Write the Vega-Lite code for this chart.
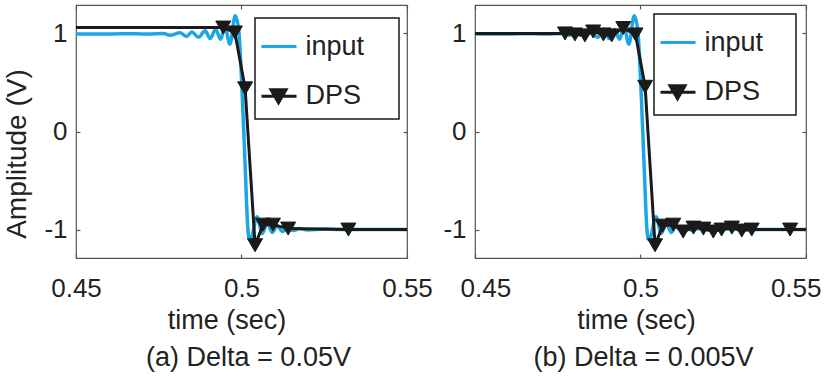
{
  "$schema": "https://vega.github.io/schema/vega-lite/v6.json",
  "padding": {"left": 2, "top": 3, "right": 0, "bottom": 0},
  "background": "white",
  "config": {
    "font": "Liberation Sans",
    "view": {"stroke": "#555555", "strokeWidth": 1.2},
    "axis": {"grid": false, "domain": false, "ticks": true, "tickSize": -4, "tickColor": "#555555", "tickWidth": 1.2, "labelColor": "#222222", "titleColor": "#222222", "titleFontWeight": "normal", "labelFontSize": 26, "titleFontSize": 27, "labelFont": "Liberation Sans", "titleFont": "Liberation Sans"},
    "legend": {"labelFont": "Liberation Sans", "labelFontSize": 27, "labelColor": "#222222"},
    "title": {"font": "Liberation Sans", "fontSize": 27, "fontWeight": "normal", "color": "#222222"}
  },
  "datasets": {
    "input": [
      {"t": 0.4500, "v": 0.995, "series": "input"},
      {"t": 0.4600, "v": 0.995, "series": "input"},
      {"t": 0.4680, "v": 0.998, "series": "input"},
      {"t": 0.4720, "v": 0.993, "series": "input"},
      {"t": 0.4764, "v": 1.000, "series": "input"},
      {"t": 0.4784, "v": 0.982, "series": "input"},
      {"t": 0.4814, "v": 1.006, "series": "input"},
      {"t": 0.4834, "v": 0.970, "series": "input"},
      {"t": 0.4850, "v": 1.015, "series": "input"},
      {"t": 0.4870, "v": 0.960, "series": "input"},
      {"t": 0.4890, "v": 1.028, "series": "input"},
      {"t": 0.4905, "v": 0.948, "series": "input"},
      {"t": 0.4922, "v": 1.040, "series": "input"},
      {"t": 0.4937, "v": 0.940, "series": "input"},
      {"t": 0.4950, "v": 1.070, "series": "input"},
      {"t": 0.4965, "v": 0.890, "series": "input"},
      {"t": 0.4981, "v": 1.180, "series": "input"},
      {"t": 0.4992, "v": 1.020, "series": "input"},
      {"t": 0.5001, "v": 0.470, "series": "input"},
      {"t": 0.5011, "v": -0.350, "series": "input"},
      {"t": 0.5019, "v": -0.980, "series": "input"},
      {"t": 0.5024, "v": -1.100, "series": "input"},
      {"t": 0.5030, "v": -1.080, "series": "input"},
      {"t": 0.5047, "v": -0.870, "series": "input"},
      {"t": 0.5063, "v": -1.040, "series": "input"},
      {"t": 0.5078, "v": -0.930, "series": "input"},
      {"t": 0.5093, "v": -1.030, "series": "input"},
      {"t": 0.5108, "v": -0.960, "series": "input"},
      {"t": 0.5124, "v": -1.020, "series": "input"},
      {"t": 0.5140, "v": -0.980, "series": "input"},
      {"t": 0.5157, "v": -1.010, "series": "input"},
      {"t": 0.5175, "v": -0.990, "series": "input"},
      {"t": 0.5200, "v": -1.005, "series": "input"},
      {"t": 0.5250, "v": -0.995, "series": "input"},
      {"t": 0.5300, "v": -1.000, "series": "input"},
      {"t": 0.5500, "v": -1.000, "series": "input"}
    ],
    "dpsA": [
      {"t": 0.4400, "v": 1.06, "series": "DPS"},
      {"t": 0.4945, "v": 1.06, "series": "DPS"},
      {"t": 0.4980, "v": 1.01, "series": "DPS"},
      {"t": 0.5011, "v": 0.44, "series": "DPS"},
      {"t": 0.5041, "v": -1.16, "series": "DPS"},
      {"t": 0.5065, "v": -0.95, "series": "DPS"},
      {"t": 0.5095, "v": -0.95, "series": "DPS"},
      {"t": 0.5141, "v": -0.99, "series": "DPS"},
      {"t": 0.5323, "v": -1.00, "series": "DPS"},
      {"t": 0.5600, "v": -1.00, "series": "DPS"}
    ],
    "dpsB": [
      {"t": 0.4400, "v": 1.00, "series": "DPS"},
      {"t": 0.4772, "v": 1.00, "series": "DPS"},
      {"t": 0.4802, "v": 0.99, "series": "DPS"},
      {"t": 0.4832, "v": 0.98, "series": "DPS"},
      {"t": 0.4857, "v": 1.02, "series": "DPS"},
      {"t": 0.4888, "v": 0.99, "series": "DPS"},
      {"t": 0.4913, "v": 0.98, "series": "DPS"},
      {"t": 0.4948, "v": 1.055, "series": "DPS"},
      {"t": 0.4985, "v": 0.99, "series": "DPS"},
      {"t": 0.5014, "v": 0.456, "series": "DPS"},
      {"t": 0.5044, "v": -1.16, "series": "DPS"},
      {"t": 0.5067, "v": -0.96, "series": "DPS"},
      {"t": 0.5099, "v": -0.95, "series": "DPS"},
      {"t": 0.5129, "v": -1.02, "series": "DPS"},
      {"t": 0.5160, "v": -0.98, "series": "DPS"},
      {"t": 0.5190, "v": -0.99, "series": "DPS"},
      {"t": 0.5220, "v": -1.02, "series": "DPS"},
      {"t": 0.5245, "v": -1.00, "series": "DPS"},
      {"t": 0.5276, "v": -0.98, "series": "DPS"},
      {"t": 0.5306, "v": -1.01, "series": "DPS"},
      {"t": 0.5336, "v": -1.00, "series": "DPS"},
      {"t": 0.5452, "v": -1.00, "series": "DPS"},
      {"t": 0.5600, "v": -1.00, "series": "DPS"}
    ]
  },
  "bounds": "flush",
  "spacing": 68,
  "resolve": {"scale": {"color": "independent"}, "legend": {"color": "independent"}},
  "hconcat": [
    {
      "width": 331,
      "height": 253,
      "title": {"text": "(a) Delta = 0.05V", "orient": "bottom", "anchor": "middle", "dx": 7, "offset": 12},
      "resolve": {"axis": {"x": "independent", "y": "independent"}},
      "layer": [
        {
          "data": {"name": "input"},
          "mark": {"type": "line", "clip": true, "strokeWidth": 3.5, "interpolate": "monotone"},
          "encoding": {
            "x": {"field": "t", "type": "quantitative", "scale": {"domain": [0.45, 0.55], "nice": false, "zero": false},
                  "axis": {"values": [0.45, 0.5, 0.55], "format": "~g", "labelBaseline": "alphabetic", "labelPadding": 42, "labelFlush": false, "title": "time (sec)", "titleX": 150.5, "titleY": 70, "titleBaseline": "alphabetic", "titleAlign": "center"}},
            "y": {"field": "v", "type": "quantitative", "scale": {"domain": [-1.29, 1.29], "nice": false, "zero": false},
                  "axis": {"values": [-1, 0, 1], "labelExpr": "datum.value < 0 ? '-' + format(-datum.value, 'd') : format(datum.value, 'd')", "labelPadding": 13, "labelBaseline": "middle", "title": "Amplitude (V)", "titleFontSize": 28, "titleAngle": 270, "titleX": -51, "titleY": 148.5, "titleBaseline": "alphabetic", "titleAlign": "center"}},
            "color": {"field": "series", "type": "nominal", "scale": {"domain": ["input", "DPS"], "range": ["#1ba7e5", "#1a1a1a"]},
                      "legend": {"orient": "none", "legendX": 179, "legendY": 13, "padding": 9.5, "strokeColor": "#1a1a1a", "fillColor": "white", "symbolSize": 1225, "labelOffset": 3, "rowPadding": 17.7, "title": " ", "titleOrient": "right", "titlePadding": 25, "titleFontSize": 27,
                                 "encode": {
                                   "legend": {"update": {"strokeWidth": {"value": 1.5}}},
                                   "symbols": {"update": {
                                   "shape": {"signal": "datum.value === 'DPS' ? 'M-1.257,0H0.743M-0.714,-0.371H0.143L-0.286,0.371Z' : 'M-1.257,0H0.743'"},
                                   "fill": {"signal": "datum.value === 'DPS' ? '#1a1a1a' : 'transparent'"},
                                   "stroke": {"signal": "datum.value === 'DPS' ? '#1a1a1a' : '#1ba7e5'"},
                                   "strokeWidth": {"value": 3},
                                   "opacity": {"value": 1}
                                 }}}}}
          }
        },
        {
          "data": {"name": "dpsA"},
          "mark": {"type": "line", "clip": true, "strokeWidth": 3},
          "encoding": {
            "x": {"field": "t", "type": "quantitative", "axis": null},
            "y": {"field": "v", "type": "quantitative", "axis": null},
            "color": {"field": "series", "type": "nominal"}
          }
        },
        {
          "data": {"name": "dpsA"},
          "mark": {"type": "point", "clip": true, "shape": "triangle-down", "filled": true, "size": 225, "color": "#1a1a1a", "stroke": "#1a1a1a", "strokeWidth": 1, "opacity": 1},
          "encoding": {
            "x": {"field": "t", "type": "quantitative", "axis": {"orient": "top", "values": [0.45, 0.5, 0.55], "labels": false, "title": null}},
            "y": {"field": "v", "type": "quantitative", "axis": {"orient": "right", "values": [-1, 0, 1], "labels": false, "title": null}}
          }
        }
      ]
    },
    {
      "width": 331,
      "height": 253,
      "title": {"text": "(b) Delta = 0.005V", "orient": "bottom", "anchor": "middle", "dx": 3, "offset": 12},
      "resolve": {"axis": {"x": "independent", "y": "independent"}},
      "layer": [
        {
          "data": {"name": "input"},
          "mark": {"type": "line", "clip": true, "strokeWidth": 3.5, "interpolate": "monotone"},
          "encoding": {
            "x": {"field": "t", "type": "quantitative", "scale": {"domain": [0.45, 0.55], "nice": false, "zero": false},
                  "axis": {"values": [0.45, 0.5, 0.55], "format": "~g", "labelBaseline": "alphabetic", "labelPadding": 42, "labelFlush": true, "labelFlushOffset": 15, "title": "time (sec)", "titleX": 161, "titleY": 70, "titleBaseline": "alphabetic", "titleAlign": "center"}},
            "y": {"field": "v", "type": "quantitative", "scale": {"domain": [-1.29, 1.29], "nice": false, "zero": false},
                  "axis": {"values": [-1, 0, 1], "labelExpr": "datum.value < 0 ? '-' + format(-datum.value, 'd') : format(datum.value, 'd')", "labelPadding": 13, "labelBaseline": "middle", "title": null}},
            "color": {"field": "series", "type": "nominal", "scale": {"domain": ["input", "DPS"], "range": ["#1ba7e5", "#1a1a1a"]},
                      "legend": {"orient": "none", "legendX": 179, "legendY": 9, "padding": 9.5, "strokeColor": "#1a1a1a", "fillColor": "white", "symbolSize": 1225, "labelOffset": 3, "rowPadding": 17.7, "title": " ", "titleOrient": "right", "titlePadding": 23, "titleFontSize": 27,
                                 "encode": {
                                   "legend": {"update": {"strokeWidth": {"value": 1.5}}},
                                   "symbols": {"update": {
                                   "shape": {"signal": "datum.value === 'DPS' ? 'M-1.257,0H0.743M-0.714,-0.371H0.143L-0.286,0.371Z' : 'M-1.257,0H0.743'"},
                                   "fill": {"signal": "datum.value === 'DPS' ? '#1a1a1a' : 'transparent'"},
                                   "stroke": {"signal": "datum.value === 'DPS' ? '#1a1a1a' : '#1ba7e5'"},
                                   "strokeWidth": {"value": 3},
                                   "opacity": {"value": 1}
                                 }}}}}
          }
        },
        {
          "data": {"name": "dpsB"},
          "mark": {"type": "line", "clip": true, "strokeWidth": 3},
          "encoding": {
            "x": {"field": "t", "type": "quantitative", "axis": null},
            "y": {"field": "v", "type": "quantitative", "axis": null},
            "color": {"field": "series", "type": "nominal"}
          }
        },
        {
          "data": {"name": "dpsB"},
          "mark": {"type": "point", "clip": true, "shape": "triangle-down", "filled": true, "size": 225, "color": "#1a1a1a", "stroke": "#1a1a1a", "strokeWidth": 1, "opacity": 1},
          "encoding": {
            "x": {"field": "t", "type": "quantitative", "axis": {"orient": "top", "values": [0.45, 0.5, 0.55], "labels": false, "title": null}},
            "y": {"field": "v", "type": "quantitative", "axis": {"orient": "right", "values": [-1, 0, 1], "labels": false, "title": null}}
          }
        }
      ]
    }
  ]
}
